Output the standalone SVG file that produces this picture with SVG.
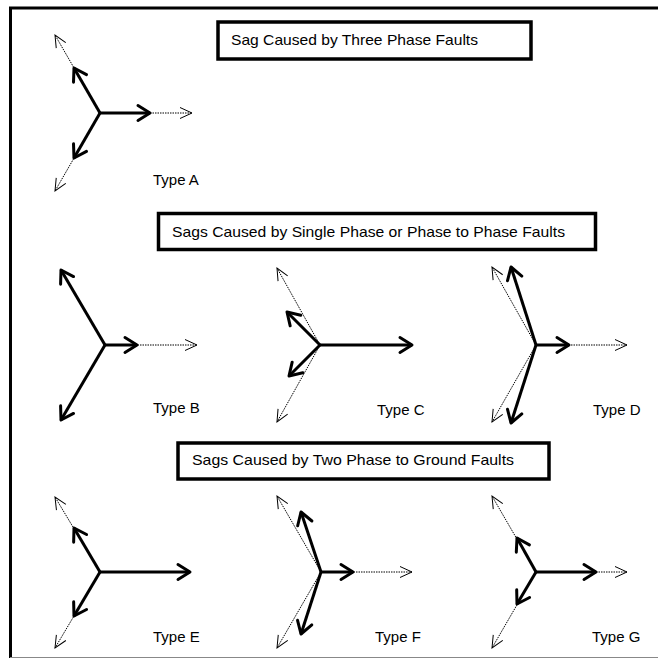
<svg xmlns="http://www.w3.org/2000/svg" width="658" height="659" viewBox="0 0 658 659">
<style>
.frame{stroke:#000;stroke-width:3;fill:none}
.title{fill:#fff;stroke:#000;stroke-width:3.5}
.t{font-family:"Liberation Sans",Arial,sans-serif;font-size:15px;fill:#000}
.s{stroke:#000;stroke-width:3;fill:none;marker-end:url(#ah)}
.d{stroke:#000;stroke-width:1;stroke-dasharray:1.5 1;fill:none;marker-end:url(#ad)}
</style>
<defs>
<marker id="ah" viewBox="-15 -10 18 20" refX="0" refY="0" markerWidth="18" markerHeight="20" markerUnits="userSpaceOnUse" orient="auto" overflow="visible">
<path d="M-12,-7.5 L0,0 L-12,7.5" fill="none" stroke="#000" stroke-width="3" stroke-linejoin="round" stroke-linecap="round"/>
</marker>
<marker id="ad" viewBox="-15 -8 18 16" refX="0" refY="0" markerWidth="18" markerHeight="16" markerUnits="userSpaceOnUse" orient="auto" overflow="visible">
<path d="M-12,-5.5 L0,0 L-12,5.5" fill="none" stroke="#000" stroke-width="1"/>
</marker>
</defs>
<rect width="658" height="659" fill="#fff"/>
<g id="frame">
<line x1="9" y1="8" x2="658" y2="8" class="frame"/>
<line x1="10.5" y1="7" x2="10.5" y2="658" class="frame"/>
<line x1="10" y1="657.5" x2="658" y2="657.5" stroke="#888" stroke-width="1"/>
</g>
<g id="title1">
<rect x="218" y="22" width="313" height="37" class="title"/>
<text x="231" y="45" class="t" textLength="247" lengthAdjust="spacingAndGlyphs">Sag Caused by Three Phase Faults</text>
</g>
<g id="title2">
<rect x="158.5" y="213.5" width="437" height="36" class="title"/>
<text x="172" y="237" class="t" textLength="393" lengthAdjust="spacingAndGlyphs">Sags Caused by Single Phase or Phase to Phase Faults</text>
</g>
<g id="title3">
<rect x="178" y="443" width="371" height="36" class="title"/>
<text x="192" y="465" class="t" textLength="322" lengthAdjust="spacingAndGlyphs">Sags Caused by Two Phase to Ground Faults</text>
</g>
<g id="connectors">
<g id="typeA">
<line x1="100" y1="113" x2="192" y2="113" class="d"/>
<line x1="100" y1="113" x2="55" y2="35" class="d"/>
<line x1="100" y1="113" x2="55" y2="191" class="d"/>
<line x1="100" y1="113" x2="150" y2="113" class="s"/>
<line x1="100" y1="113" x2="74" y2="68" class="s"/>
<line x1="100" y1="113" x2="74" y2="158" class="s"/>
</g>
<g id="typeB">
<line x1="105" y1="345" x2="197" y2="345" class="d"/>
<line x1="105" y1="345" x2="137" y2="345" class="s"/>
<line x1="105" y1="345" x2="61" y2="270" class="s"/>
<line x1="105" y1="345" x2="61" y2="420" class="s"/>
</g>
<g id="typeC">
<line x1="320" y1="345" x2="277" y2="268" class="d"/>
<line x1="320" y1="345" x2="277" y2="422" class="d"/>
<line x1="320" y1="345" x2="412" y2="345" class="s"/>
<line x1="320" y1="345" x2="287" y2="312" class="s"/>
<line x1="320" y1="345" x2="289" y2="376" class="s"/>
</g>
<g id="typeD">
<line x1="536" y1="345" x2="627" y2="345" class="d"/>
<line x1="536" y1="345" x2="492" y2="267" class="d"/>
<line x1="536" y1="345" x2="492" y2="422" class="d"/>
<line x1="536" y1="345" x2="569" y2="345" class="s"/>
<line x1="536" y1="345" x2="511" y2="267" class="s"/>
<line x1="536" y1="345" x2="511" y2="423" class="s"/>
</g>
<g id="typeE">
<line x1="100" y1="572" x2="55" y2="497" class="d"/>
<line x1="100" y1="572" x2="55" y2="648" class="d"/>
<line x1="100" y1="572" x2="190" y2="572" class="s"/>
<line x1="100" y1="572" x2="74" y2="528" class="s"/>
<line x1="100" y1="572" x2="74" y2="616" class="s"/>
</g>
<g id="typeF">
<line x1="321" y1="572" x2="412" y2="572" class="d"/>
<line x1="321" y1="572" x2="277" y2="496" class="d"/>
<line x1="321" y1="572" x2="277" y2="648" class="d"/>
<line x1="321" y1="572" x2="353" y2="572" class="s"/>
<line x1="321" y1="572" x2="301" y2="512" class="s"/>
<line x1="321" y1="572" x2="301" y2="634" class="s"/>
</g>
<g id="typeG">
<line x1="536" y1="572" x2="627" y2="572" class="d"/>
<line x1="536" y1="572" x2="492" y2="496" class="d"/>
<line x1="536" y1="572" x2="492" y2="648" class="d"/>
<line x1="536" y1="572" x2="596" y2="572" class="s"/>
<line x1="536" y1="572" x2="517" y2="538" class="s"/>
<line x1="536" y1="572" x2="517" y2="604" class="s"/>
</g>
</g>
<g id="labels">
<text id="labelA" x="153" y="185" class="t">Type A</text>
<text id="labelB" x="153" y="413" class="t">Type B</text>
<text id="labelC" x="377" y="415" class="t">Type C</text>
<text id="labelD" x="593" y="415" class="t">Type D</text>
<text id="labelE" x="153" y="642" class="t">Type E</text>
<text id="labelF" x="375" y="642" class="t">Type F</text>
<text id="labelG" x="592" y="642" class="t">Type G</text>
</g>
</svg>
